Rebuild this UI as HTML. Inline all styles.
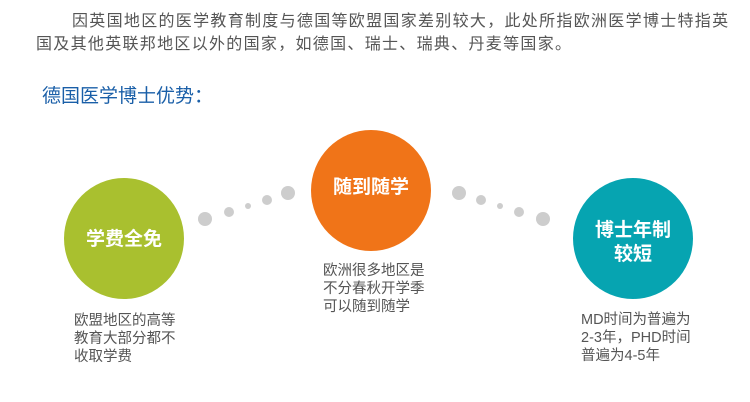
<!DOCTYPE html>
<html><head><meta charset="utf-8"><style>
body{margin:0;width:750px;height:402px;background:#fff;position:relative;overflow:hidden;font-family:"Liberation Sans","Noto Sans CJK SC",sans-serif;}
.t{position:absolute;white-space:nowrap;}
.p{color:#555;font-size:16px;letter-spacing:1.3px;line-height:20px;}
.c{position:absolute;border-radius:50%;}
.l{color:#fff;font-weight:bold;font-size:19px;text-align:center;position:absolute;line-height:24px;}
.cap{color:#555;font-size:14.5px;line-height:18px;position:absolute;white-space:nowrap;}
</style></head><body>
<div class="t p" style="left:72px;top:12px;">因英国地区的医学教育制度与德国等欧盟国家差别较大，此处所指欧洲医学博士特指英</div>
<div class="t p" style="left:36px;top:35px;">国及其他英联邦地区以外的国家，如德国、瑞士、瑞典、丹麦等国家。</div>
<div class="t" style="left:42px;top:86px;color:#1a5fa8;font-size:19px;line-height:22px;">德国医学博士优势：</div>

<div class="c" style="left:64px;top:178px;width:120px;height:121px;background:#a9c02f;"></div>
<div class="c" style="left:311px;top:130px;width:120px;height:121px;background:#f07418;"></div>
<div class="c" style="left:573px;top:178px;width:120px;height:121px;background:#06a4b1;"></div>

<div class="l" style="left:64px;width:120px;top:228px;">学费全免</div>
<div class="l" style="left:311px;width:120px;top:176px;">随到随学</div>
<div class="l" style="left:573px;width:120px;top:219px;">博士年制<br>较短</div>

<svg width="750" height="402" style="position:absolute;left:0;top:0">
<g fill="#cdcdcd">
<circle cx="205" cy="219" r="7"/><circle cx="229" cy="212" r="5"/><circle cx="248" cy="206" r="3"/><circle cx="267" cy="200" r="5"/><circle cx="288" cy="193" r="7"/>
<circle cx="459" cy="193" r="7"/><circle cx="481" cy="200" r="5"/><circle cx="500" cy="206" r="3"/><circle cx="519" cy="212" r="5"/><circle cx="543" cy="219" r="7"/>
</g></svg>

<div class="cap" style="left:74px;top:312px;">欧盟地区的高等<br>教育大部分都不<br>收取学费</div>
<div class="cap" style="left:323px;top:262px;">欧洲很多地区是<br>不分春秋开学季<br>可以随到随学</div>
<div class="cap" style="left:581px;top:311px;">MD时间为普遍为<br>2-3年，PHD时间<br>普遍为4-5年</div>
</body></html>
